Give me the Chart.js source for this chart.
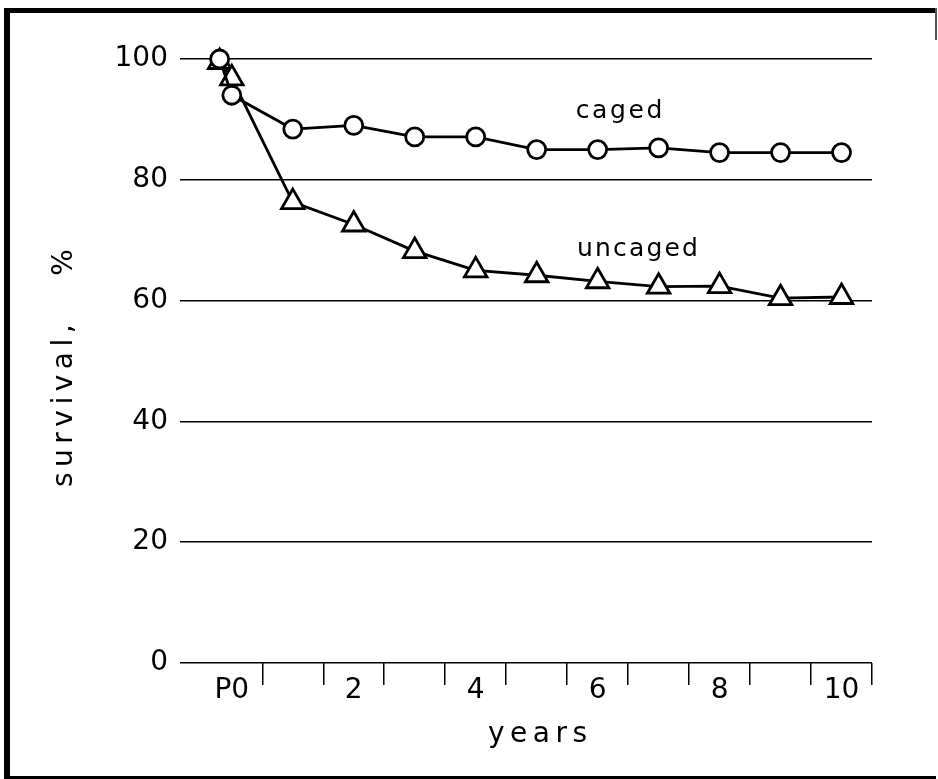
<!DOCTYPE html>
<html>
<head>
<meta charset="utf-8">
<script src="https://cdn.jsdelivr.net/npm/chart.js@4/dist/chart.umd.min.js"></script>
<style>
  html, body { margin: 0; padding: 0; background: #fff; overflow: hidden; }
  #wrap { position: relative; width: 938px; height: 779px; overflow: hidden; }
  #frame {
    position: absolute; left: 4px; top: 8px; width: 926px; height: 763px;
    border-left: 6px solid #000; border-top: 5px solid #000; border-bottom: 4px solid #000;
    border-right: none;
  }
  #corner { position: absolute; left: 935px; top: 8px; width: 2px; height: 32px; background: #555; }
  #chart { position: absolute; left: 0; top: 0; }
</style>
</head>
<body>
<div id="wrap">
  <div id="frame"></div>
  <div id="corner"></div>
  <canvas id="chart" width="938" height="779"></canvas>
</div>
<script>
"use strict"

// years after planting (P = at planting, just before year 0)
const years = [-0.2, 0, 1, 2, 3, 4, 5, 6, 7, 8, 9, 10]
const caged = [100, 94, 88.4, 89, 87.1, 87.1, 85, 85, 85.3, 84.5, 84.5, 84.5]
const uncaged = [99.5, 96.8, 76.3, 72.6, 68.2, 65, 64.2, 63.2, 62.3, 62.4, 60.4, 60.6]

// x axis: labels on even years, tick marks between years
const labelYears = [0, 2, 4, 6, 8, 10]
const labelText = ["P0", "2", "4", "6", "8", "10"]
const tickMarks = [0.5, 1.5, 2.5, 3.5, 4.5, 5.5, 6.5, 7.5, 8.5, 9.5, 10.5]
const yTicks = [0, 20, 40, 60, 80, 100]

const FONT = "'DejaVu Sans', sans-serif"
Chart.defaults.font.family = FONT
Chart.defaults.color = "#000"

function points(ys) {
  return years.map((x, i) => ({ x: x, y: ys[i] }))
}

// Подписи серий и осей (с разрядкой букв)
const labelsPlugin = {
  id: "labels",
  afterDraw(chart) {
    const ctx = chart.ctx
    const x = chart.scales.x, y = chart.scales.y
    ctx.save()
    ctx.fillStyle = "#000"
    ctx.textBaseline = "alphabetic"
    ctx.textAlign = "left"

    ctx.font = "25px " + FONT
    ctx.letterSpacing = "2.6px"
    ctx.fillText("caged", x.getPixelForValue(5.64), y.getPixelForValue(90.2))
    ctx.letterSpacing = "2.2px"
    ctx.fillText("uncaged", x.getPixelForValue(5.66), y.getPixelForValue(67.4))

    ctx.font = "28px " + FONT
    ctx.letterSpacing = "5.5px"
    ctx.fillText("years", 488, 742)

    ctx.translate(72, 487)
    ctx.rotate(-Math.PI / 2)
    ctx.letterSpacing = "5.5px"
    ctx.fillText("survival,   %", 0, 0)
    ctx.restore()
  }
}

new Chart(document.getElementById("chart"), {
  type: "line",
  data: {
    datasets: [{
      label: "caged",
      data: points(caged),
      borderColor: "#000",
      borderWidth: 2.8,
      pointStyle: "circle",
      pointRadius: 9,
      pointBorderWidth: 2.8,
      pointBackgroundColor: "#fff",
      pointBorderColor: "#000",
      clip: false
    }, {
      label: "uncaged",
      data: points(uncaged),
      borderColor: "#000",
      borderWidth: 2.8,
      pointStyle: "triangle",
      pointRadius: 13,
      pointBorderWidth: 2.8,
      pointBackgroundColor: "#fff",
      pointBorderColor: "#000",
      clip: false
    }]
  },
  options: {
    responsive: false,
    animation: false,
    layout: { padding: { left: 0, top: 59, right: 66, bottom: 0 } },
    plugins: {
      legend: { display: false },
      tooltip: { enabled: false }
    },
    scales: {
      x: {
        type: "linear",
        min: -0.85,
        max: 10.5,
        afterBuildTicks: scale => {
          scale.ticks = labelYears.concat(tickMarks).sort((a, b) => a - b).map(v => ({ value: v }))
        },
        afterFit: scale => { scale.height = 779 - 663 },
        border: { display: false },
        grid: {
          drawOnChartArea: false,
          drawTicks: true,
          tickLength: 22,
          lineWidth: 1.5,
          tickColor: c => (c.tick && c.tick.value % 1 !== 0) ? "#000" : "rgba(0,0,0,0)"
        },
        ticks: {
          autoSkip: false,
          maxRotation: 0,
          padding: -11,
          font: { size: 28 },
          callback: v => {
            const i = labelYears.indexOf(v)
            return i >= 0 ? labelText[i] : ""
          }
        }
      },
      y: {
        min: 0,
        max: 100,
        afterBuildTicks: scale => {
          scale.ticks = yTicks.map(v => ({ value: v }))
        },
        afterFit: scale => { scale.width = 180 },
        border: { display: false },
        grid: {
          color: "#000",
          lineWidth: 1.5,
          drawTicks: false
        },
        ticks: {
          padding: 12,
          font: { size: 28 }
        }
      }
    }
  },
  plugins: [labelsPlugin]
})
</script>
</body>
</html>
